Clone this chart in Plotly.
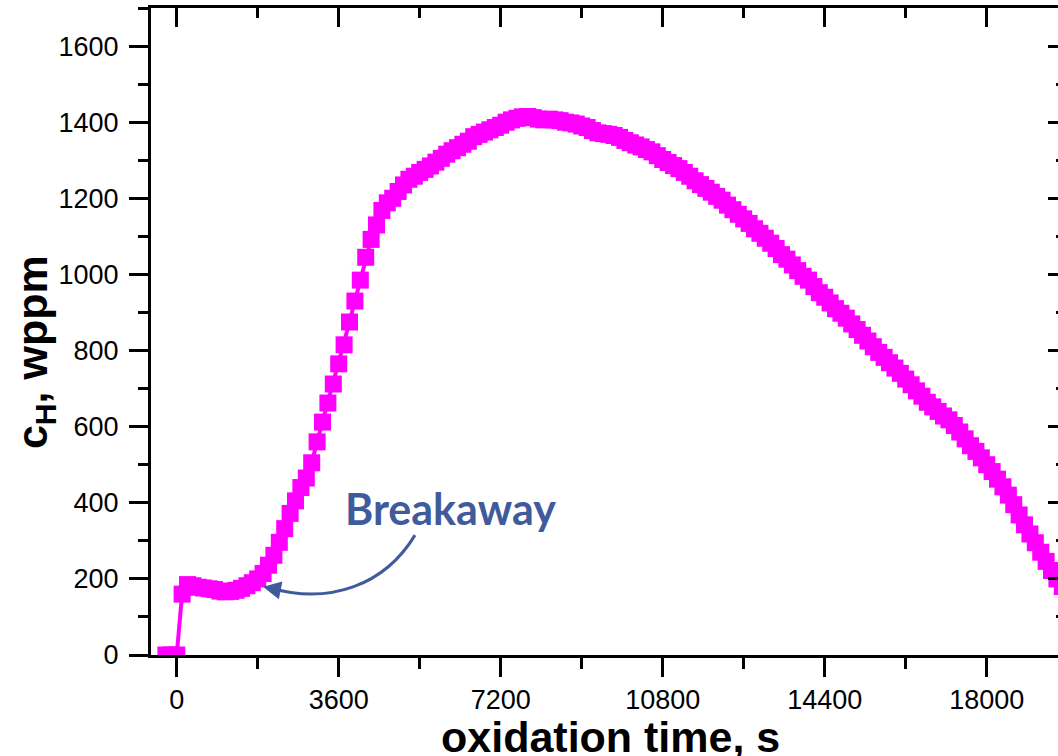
import plotly.graph_objects as go

# oxidation time, s
time_s = [
    -240, -120, 0, 120, 240, 360, 480, 600, 720, 840, 960, 1080, 1200, 1320, 1440, 1560, 1680, 1800,
    1920, 2040, 2160, 2280, 2400, 2520, 2640, 2760, 2880, 3000, 3120, 3240, 3360, 3480, 3600, 3720,
    3840, 3960, 4080, 4200, 4320, 4440, 4560, 4680, 4800, 4920, 5040, 5160, 5280, 5400, 5520, 5640,
    5760, 5880, 6000, 6120, 6240, 6360, 6480, 6600, 6720, 6840, 6960, 7080, 7200, 7320, 7440, 7560,
    7680, 7800, 7920, 8040, 8160, 8280, 8400, 8520, 8640, 8760, 8880, 9000, 9120, 9240, 9360, 9480,
    9600, 9720, 9840, 9960, 10080, 10200, 10320, 10440, 10560, 10680, 10800, 10920, 11040, 11160,
    11280, 11400, 11520, 11640, 11760, 11880, 12000, 12120, 12240, 12360, 12480, 12600, 12720, 12840,
    12960, 13080, 13200, 13320, 13440, 13560, 13680, 13800, 13920, 14040, 14160, 14280, 14400, 14520,
    14640, 14760, 14880, 15000, 15120, 15240, 15360, 15480, 15600, 15720, 15840, 15960, 16080, 16200,
    16320, 16440, 16560, 16680, 16800, 16920, 17040, 17160, 17280, 17400, 17520, 17640, 17760, 17880,
    18000, 18120, 18240, 18360, 18480, 18600, 18720, 18840, 18960, 19080, 19200, 19320, 19440, 19560,
    19680,
]
# hydrogen concentration c_H, wppm
c_h = [
    0, 0, 0, 160, 185, 182, 178, 176, 174, 172, 168, 166, 167, 170, 175, 182, 190, 200,
    214, 236, 262, 296, 332, 372, 405, 440, 465, 505, 560, 612, 662, 712, 765, 815,
    875, 930, 985, 1045, 1092, 1130, 1168, 1188, 1200, 1218, 1235, 1250, 1258, 1268, 1276, 1285,
    1295, 1305, 1316, 1325, 1333, 1342, 1350, 1362, 1368, 1374, 1380, 1386, 1392, 1400, 1406, 1410,
    1414, 1415, 1412, 1408, 1406, 1408, 1406, 1404, 1400, 1398, 1395, 1390, 1386, 1378, 1372, 1370,
    1368, 1365, 1360, 1352, 1346, 1340, 1335, 1328, 1322, 1312, 1302, 1294, 1286, 1278,
    1268, 1258, 1246, 1236, 1226, 1216, 1205, 1195, 1182, 1170, 1158, 1146, 1134, 1120,
    1108, 1095, 1082, 1068, 1052, 1040, 1025, 1010, 995, 985, 968, 952, 940, 925,
    910, 898, 885, 870, 855, 840, 825, 810, 795, 782, 768, 754, 740, 725,
    710, 694, 680, 664, 652, 640, 628, 618, 603, 586, 568, 550, 535, 518,
    500, 482, 462, 442, 420, 395, 368, 342, 318, 295, 270, 246, 222, 200,
    180,
]

x_ticks = [0, 3600, 7200, 10800, 14400, 18000]
x_tick_labels = ["0", "3600", "7200", "10800", "14400", "18000"]
y_ticks = [0, 200, 400, 600, 800, 1000, 1200, 1400, 1600]
y_tick_labels = ["0", "200", "400", "600", "800", "1000", "1200", "1400", "1600"]

X_RANGE = [-571, 19584]
Y_RANGE = [0, 1700]

MAGENTA = "#FF00FF"
BLUE = "#3F5B9B"
FONT = "Liberation Sans, Arial, sans-serif"

fig = go.Figure()
fig.add_trace(go.Scatter(
    x=time_s, y=c_h, mode="lines+markers",
    line=dict(color=MAGENTA, width=4),
    marker=dict(symbol="square", size=17, color=MAGENTA, line=dict(width=0)),
    showlegend=False, hoverinfo="skip",
))
# empty trace to activate the mirrored top/right axes
fig.add_trace(go.Scatter(x=[], y=[], xaxis="x2", yaxis="y2", showlegend=False))

axis_common = dict(showgrid=False, zeroline=False, linecolor="black", linewidth=3,
                   tickcolor="black", tickwidth=3)

fig.update_layout(
    width=1058, height=756,
    margin=dict(l=151, r=0, t=8, b=101),
    paper_bgcolor="white", plot_bgcolor="white",
    font=dict(family=FONT, color="black"),
    xaxis=dict(range=X_RANGE, tickvals=x_ticks, ticktext=x_tick_labels,
               ticks="outside", ticklen=19, showline=True, mirror=False,
               minor=dict(dtick=1800, tick0=0, ticks="outside", ticklen=11, tickwidth=3,
                          tickcolor="black"),
               tickfont=dict(size=27, family=FONT, color="black"),
               ticklabelstandoff=0,
               **axis_common),
    yaxis=dict(range=Y_RANGE, tickvals=y_ticks, ticktext=y_tick_labels,
               ticks="outside", ticklen=19, showline=True,
               minor=dict(dtick=100, tick0=0, ticks="outside", ticklen=10, tickwidth=3,
                          tickcolor="black"),
               tickfont=dict(size=27, family=FONT, color="black"),
               ticklabelstandoff=5,
               **axis_common),
    xaxis2=dict(range=X_RANGE, overlaying="x", side="top", anchor="y2",
                tickvals=x_ticks, ticks="inside", ticklen=19, showticklabels=False,
                showline=True,
                minor=dict(dtick=1800, tick0=0, ticks="inside", ticklen=10, tickwidth=3,
                           tickcolor="black"),
                **axis_common),
    yaxis2=dict(range=Y_RANGE, overlaying="y", side="right", anchor="x2",
                tickvals=y_ticks, ticks="inside", ticklen=10, showticklabels=False,
                showgrid=False, zeroline=False, showline=False,
                tickcolor="black", tickwidth=3,
                minor=dict(dtick=100, tick0=0, ticks="inside", ticklen=2, tickwidth=3,
                           tickcolor="black")),
)

# axis titles
fig.add_annotation(text="<b>oxidation time, s</b>", xref="paper", yref="paper",
                   x=0.507, y=-0.127, xanchor="center", yanchor="middle", showarrow=False,
                   font=dict(size=43, family=FONT, color="black"))
fig.add_annotation(text="<b>c<sub>H</sub>, wppm</b>", xref="paper", yref="paper",
                   x=-0.128, y=0.468, xanchor="center", yanchor="middle", textangle=-90,
                   showarrow=False, font=dict(size=43, family=FONT, color="black"))

# Breakaway label with curved arrow
fig.add_annotation(text="<b>Breakaway</b>", x=6095, y=386, xref="x", yref="y",
                   showarrow=False, xanchor="center", yanchor="middle",
                   font=dict(size=43, family="Lato, Open Sans, sans-serif", color=BLUE))
fig.add_shape(type="path", xref="x", yref="y",
              path="M 5295,315 C 4628,184 3406,131 2073,176",
              line=dict(color=BLUE, width=3))
fig.add_annotation(x=1917, y=179, xref="x", yref="y", ax=20, ay=4, text="",
                   showarrow=True, arrowhead=2, arrowsize=1.2, arrowwidth=3,
                   arrowcolor=BLUE)

fig.write_html("out.html")
